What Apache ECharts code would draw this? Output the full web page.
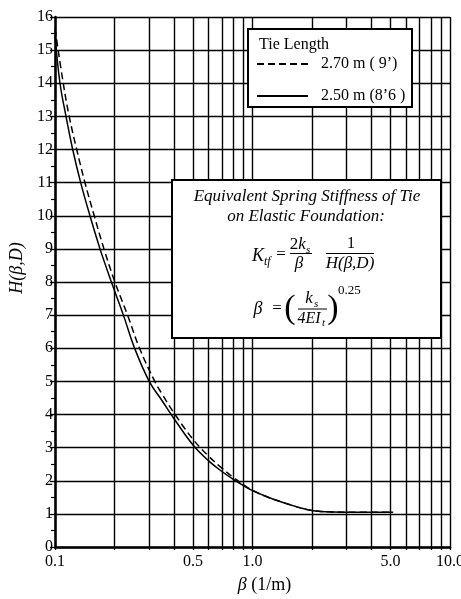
<!DOCTYPE html>
<html><head><meta charset="utf-8">
<script src="https://cdn.jsdelivr.net/npm/echarts@6/dist/echarts.min.js"></script>
<style>html,body{margin:0;padding:0;background:#fff}#c{width:461px;height:599px}</style>
</head><body><div id="c"></div>
<script>
// ---- data ----
const betaSolid = [0.1, 0.106, 0.1137, 0.1229, 0.1349, 0.1503, 0.169, 0.193, 0.222, 0.253, 0.3, 0.35, 0.4, 0.5, 0.6, 0.7, 0.8, 0.9, 1.0, 1.2, 1.4, 1.6, 1.8, 2.0, 2.2, 2.5, 3.0, 5.15];
const hSolid    = [15.45, 14.0, 13.0, 12.0, 11.0, 10.0, 9.0, 8.0, 7.0, 6.0, 5.0, 4.4, 3.88, 3.08, 2.6, 2.28, 2.04, 1.85, 1.7, 1.5, 1.36, 1.25, 1.16, 1.1, 1.075, 1.06, 1.05, 1.05];
const betaDashed = [0.1, 0.1101, 0.118, 0.1288, 0.1418, 0.158, 0.177, 0.201, 0.233, 0.268, 0.32, 0.35, 0.4, 0.5, 0.6, 0.7, 0.8, 0.9, 1.0, 1.2, 1.4, 1.6, 1.8, 2.0, 2.2, 2.5, 3.0, 5.15];
const hDashed    = [15.65, 14.0, 13.0, 12.0, 11.0, 10.0, 9.0, 8.0, 7.0, 6.0, 5.0, 4.6, 4.05, 3.25, 2.74, 2.38, 2.1, 1.88, 1.71, 1.5, 1.36, 1.25, 1.16, 1.1, 1.075, 1.06, 1.05, 1.05];
const nameDashed = '2.70 m ( 9\u2019)';
const nameSolid = '2.50 m (8\u20196 )';
const xLabelValues = [0.1, 0.5, 1, 5, 10];
const xLabelTexts = ['0.1', '0.5', '1.0', '5.0', '10.0'];
const xGridValues = [0.1,0.2,0.3,0.4,0.5,0.6,0.7,0.8,0.9,1,2,3,4,5,6,7,8,9,10];
const yMin = 0, yMax = 16, yStep = 1;

const SERIF = '"Liberation Serif", "Times New Roman", serif';
const pairs = (xs, ys) => xs.map((x, i) => [x, ys[i]]);

function txt(x, y, s, size, opts) {
  opts = opts || {};
  const font = (opts.italic ? 'italic ' : '') + size + 'px ' + SERIF;
  const align = opts.align || 'center';
  return { type: 'text', x: x, y: y, z: 30,
    style: { text: s, font: font, fill: '#000', align: align, verticalAlign: 'middle',
             textAlign: align, textVerticalAlign: 'middle' } };
}
function ln(x1, y1, x2, y2, w, dash) {
  return { type: 'line', z: 30, shape: { x1, y1, x2, y2 },
    style: { stroke: '#000', lineWidth: w || 1, lineDash: dash || null } };
}

const chart = echarts.init(document.getElementById('c'), null, { renderer: 'canvas' });
chart.setOption({
  backgroundColor: '#fff',
  animation: false,
  grid: { left: 55, right: 11, top: 17, bottom: 52, containLabel: false, outerBoundsMode: 'none' },
  xAxis: {
    type: 'log', logBase: 10, min: 0.1, max: 10,
    name: '{i|\u03b2} (1/m)', nameLocation: 'middle', nameGap: 29,
    nameTextStyle: { fontFamily: SERIF, fontSize: 18, color: '#000', padding: [0, 0, 0, 24],
      rich: { i: { fontFamily: SERIF, fontSize: 18, fontStyle: 'italic', color: '#000' } } },
    axisLine: { onZero: false, lineStyle: { color: '#000', width: 2.5 } },
    axisTick: { show: true, customValues: xGridValues, length: 3, inside: false, lineStyle: { color: '#000', width: 1.3 } },
    axisLabel: { customValues: xLabelValues, margin: 7, fontFamily: SERIF, fontSize: 16, color: '#000', hideOverlap: false,
      formatter: v => { const i = xLabelValues.findIndex(u => Math.abs(u - v) < 1e-9); return i >= 0 ? xLabelTexts[i] : ''; } },
    splitLine: { show: true, lineStyle: { color: '#000', width: 1.4 } },
    minorTick: { show: false }, minorSplitLine: { show: false }
  },
  yAxis: {
    type: 'value', min: yMin, max: yMax, interval: yStep,
    name: 'H(\u03b2,D)', nameLocation: 'middle', nameGap: 27,
    nameTextStyle: { fontFamily: SERIF, fontSize: 18, fontStyle: 'italic', color: '#000', padding: [0, 0, 0, 28] },
    axisLine: { show: true, lineStyle: { color: '#000', width: 2.5 } },
    axisTick: { show: true, length: 5, lineStyle: { color: '#000', width: 1.3 } },
    minorTick: { show: true, splitNumber: 2, length: 4, lineStyle: { color: '#000', width: 1.2 } },
    axisLabel: { margin: 2, fontFamily: SERIF, fontSize: 16, color: '#000' },
    splitLine: { show: true, lineStyle: { color: '#000', width: 1.4 } }
  },
  legend: {
    show: true, orient: 'vertical', left: 256, top: 56, z: 40,
    itemWidth: 51, itemHeight: 14, itemGap: 16, padding: 0,
    data: [nameDashed, nameSolid],
    itemStyle: { opacity: 0, borderWidth: 0 },
    textStyle: { fontFamily: SERIF, fontSize: 16, color: '#000', padding: [0, 0, 0, 8] },
    selectedMode: false
  },
  series: [
    { name: nameDashed, type: 'line', data: pairs(betaDashed, hDashed), smooth: 0.4, showSymbol: false, symbol: 'none',
      lineStyle: { color: '#000', width: 1.5, type: [7, 4] }, itemStyle: { color: '#000' }, z: 5 },
    { name: nameSolid, type: 'line', data: pairs(betaSolid, hSolid), smooth: 0.4, showSymbol: false, symbol: 'none',
      lineStyle: { color: '#000', width: 1.5 }, itemStyle: { color: '#000' }, z: 6 }
  ],
  graphic: { elements: [
    // legend box
    { type: 'rect', z: 20, shape: { x: 248, y: 29, width: 164, height: 78 }, style: { fill: '#fff', stroke: '#000', lineWidth: 2 } },
    txt(259, 45, 'Tie Length', 16, { align: 'left' }),
    // equation box
    { type: 'rect', z: 20, shape: { x: 172, y: 180, width: 269, height: 158 }, style: { fill: '#fff', stroke: '#000', lineWidth: 2 } },
    txt(307, 197, 'Equivalent Spring Stiffness of Tie', 17, { italic: true }),
    txt(306, 217, 'on Elastic Foundation:', 17, { italic: true }),
    // K_tf = 2k_s/beta * 1/H(beta,D)
    txt(258, 256, 'K', 18, { italic: true }),
    txt(264, 262, 'tf', 12, { italic: true, align: 'left' }),
    txt(281, 255, '=', 17),
    txt(294, 245, '2', 17),
    txt(302, 245, 'k', 17, { italic: true }),
    txt(306, 250, 's', 11, { italic: true, align: 'left' }),
    ln(290, 253.5, 312, 253.5, 1),
    txt(299, 264, '\u03b2', 17, { italic: true }),
    txt(351, 244, '1', 16),
    ln(326, 253.5, 374, 253.5, 1),
    txt(350, 264, 'H(\u03b2,D)', 17, { italic: true }),
    // beta = (k_s / 4EI_t)^0.25
    txt(258, 309, '\u03b2', 18, { italic: true }),
    txt(277, 309, '=', 17),
    txt(290, 309, '(', 34),
    txt(309, 299, 'k', 17, { italic: true }),
    txt(314, 304, 's', 11, { italic: true, align: 'left' }),
    ln(298, 309, 327, 309, 1),
    txt(309, 319, '4EI', 16, { italic: true }),
    txt(322, 323, 't', 11, { italic: true, align: 'left' }),
    txt(333, 309, ')', 34),
    txt(338, 291, '0.25', 13, { align: 'left' })
  ] }
});
</script></body></html>
